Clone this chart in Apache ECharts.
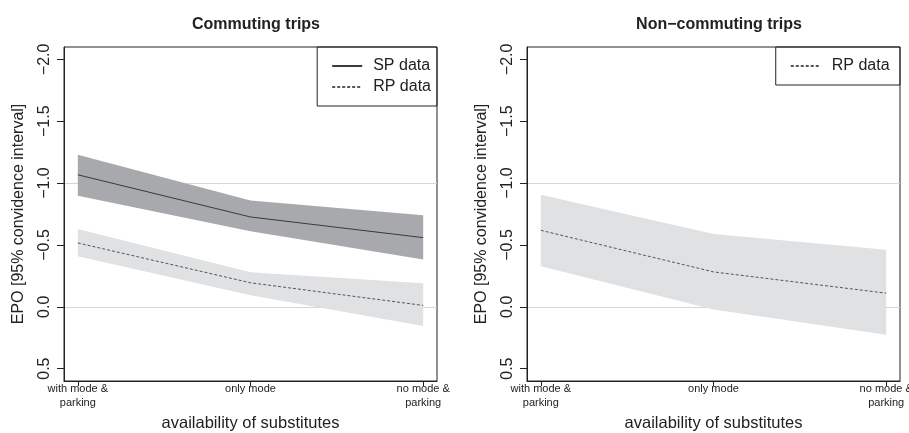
<!DOCTYPE html>
<html>
<head>
<meta charset="utf-8">
<script src="https://cdn.jsdelivr.net/npm/echarts@6/dist/echarts.min.js"></script>
<style>
  html, body { margin: 0; padding: 0; background: #fff; }
  #chart { width: 909px; height: 433px; }
</style>
</head>
<body>
<div id="chart"></div>
<script>
// categories along x (positions 1, 2, 3)
const categories = ['with mode &\nparking', 'only mode', 'no mode &\nparking'];
const xPos = [1, 2, 3];
const yTicks = [-2.0, -1.5, -1.0, -0.5, 0.0, 0.5];

// commuting trips
const spMean = [-1.067, -0.726, -0.559];
const spUpper = [-1.228, -0.860, -0.739];
const spLower = [-0.898, -0.610, -0.382];
const rpMean = [-0.516, -0.194, -0.011];
const rpUpper = [-0.629, -0.280, -0.191];
const rpLower = [-0.409, -0.094, 0.156];

// non-commuting trips
const ncMean = [-0.618, -0.282, -0.110];
const ncUpper = [-0.906, -0.589, -0.460];
const ncLower = [-0.328, 0.022, 0.226];

const FONT = '"Liberation Sans", Arial, sans-serif';

function fmtY(v) {
  const s = Math.abs(v).toFixed(1);
  return v < 0 ? '\u2212' + s : s;
}

function band(name, gridIdx, upper, lower, color) {
  return {
    name: name,
    type: 'custom',
    xAxisIndex: gridIdx,
    yAxisIndex: gridIdx,
    silent: true,
    z: 1,
    data: [[0]],
    renderItem: function (params, api) {
      const pts = [];
      for (let i = 0; i < xPos.length; i++) pts.push(api.coord([xPos[i], upper[i]]));
      for (let i = xPos.length - 1; i >= 0; i--) pts.push(api.coord([xPos[i], lower[i]]));
      return { type: 'polygon', shape: { points: pts }, style: { fill: color } };
    }
  };
}

function meanLine(name, gridIdx, vals, dashed, withRefLines) {
  const col = dashed ? '#555' : '#3a3a3a';
  const s = {
    name: name,
    type: 'line',
    xAxisIndex: gridIdx,
    yAxisIndex: gridIdx,
    data: xPos.map((x, i) => [x, vals[i]]),
    symbol: 'none',
    silent: true,
    z: 3,
    lineStyle: dashed ? { color: col, width: 1, type: [3, 2] } : { color: col, width: 1 },
    itemStyle: { color: col }
  };
  if (withRefLines) {
    s.markLine = {
      silent: true,
      symbol: 'none',
      label: { show: false },
      lineStyle: { color: '#d6d6d6', type: 'solid', width: 1 },
      data: [{ yAxis: -1.0 }, { yAxis: 0.0 }],
      z: 0
    };
  }
  return s;
}

function xAxis(gridIdx) {
  return {
    type: 'value',
    gridIndex: gridIdx,
    min: 0.92,
    max: 3.08,
    axisLine: { show: true, onZero: false, lineStyle: { color: '#222', width: 1 } },
    axisTick: { show: true, customValues: xPos, length: 5, lineStyle: { color: '#222' } },
    axisLabel: {
      show: true,
      customValues: xPos,
      formatter: v => categories[Math.round(v) - 1],
      color: '#222',
      fontFamily: FONT,
      fontSize: 11,
      lineHeight: 14,
      margin: 1,
      hideOverlap: false
    },
    splitLine: { show: false },
    name: 'availability of substitutes',
    nameLocation: 'middle',
    nameGap: 25,
    nameTextStyle: { color: '#222', fontFamily: FONT, fontSize: 16.5 }
  };
}

function yAxis(gridIdx) {
  return {
    type: 'value',
    gridIndex: gridIdx,
    inverse: true,
    min: -2.1,
    max: 0.6,
    axisLine: { show: true, onZero: false, lineStyle: { color: '#222', width: 1 } },
    axisTick: { show: true, customValues: yTicks, length: 7, lineStyle: { color: '#222' } },
    axisLabel: {
      show: true,
      customValues: yTicks,
      formatter: fmtY,
      rotate: 90,
      color: '#222',
      fontFamily: FONT,
      fontSize: 16,
      margin: 11
    },
    splitLine: { show: false },
    name: 'EPO [95% convidence interval]',
    nameLocation: 'middle',
    nameGap: 37,
    nameRotate: 90,
    nameTextStyle: { color: '#222', fontFamily: FONT, fontSize: 16 }
  };
}

function legend(items, right) {
  return {
    data: items,
    orient: 'vertical',
    right: right,
    top: 47,
    itemWidth: 30,
    itemHeight: 14,
    itemGap: 5,
    padding: [11, 6, 11, 14],
    borderColor: '#222',
    borderWidth: 1,
    selectedMode: false,
    itemStyle: { opacity: 0 },
    textStyle: { color: '#222', fontFamily: FONT, fontSize: 16, padding: [0, 0, 0, 6] }
  };
}

const chart = echarts.init(document.getElementById('chart'), null, { renderer: 'canvas' });

const gridBase = {
  top: 47, width: 373, height: 334, show: true,
  borderColor: '#222', borderWidth: 1, backgroundColor: 'transparent',
  containLabel: false, outerBoundsMode: 'none'
};

chart.setOption({
  backgroundColor: '#fff',
  animation: false,
  title: [
    { text: 'Commuting trips', left: 251, top: 12, textAlign: 'center',
      textStyle: { fontFamily: FONT, fontSize: 16, fontWeight: 'bold', color: '#222' } },
    { text: 'Non\u2212commuting trips', left: 714, top: 12, textAlign: 'center',
      textStyle: { fontFamily: FONT, fontSize: 16, fontWeight: 'bold', color: '#222' } }
  ],
  grid: [
    Object.assign({ left: 64 }, gridBase),
    Object.assign({ left: 527 }, gridBase)
  ],
  legend: [
    legend(['SP data', 'RP data'], 909 - 437),
    legend(['RP data '], 909 - 900)
  ],
  xAxis: [xAxis(0), xAxis(1)],
  yAxis: [yAxis(0), yAxis(1)],
  series: [
    band('SP band', 0, spUpper, spLower, '#a8a9ad'),
    band('RP band', 0, rpUpper, rpLower, '#e0e1e3'),
    meanLine('SP data', 0, spMean, false, true),
    meanLine('RP data', 0, rpMean, true, false),
    band('NC band', 1, ncUpper, ncLower, '#e0e1e3'),
    meanLine('RP data ', 1, ncMean, true, true)
  ]
});
</script>
</body>
</html>
